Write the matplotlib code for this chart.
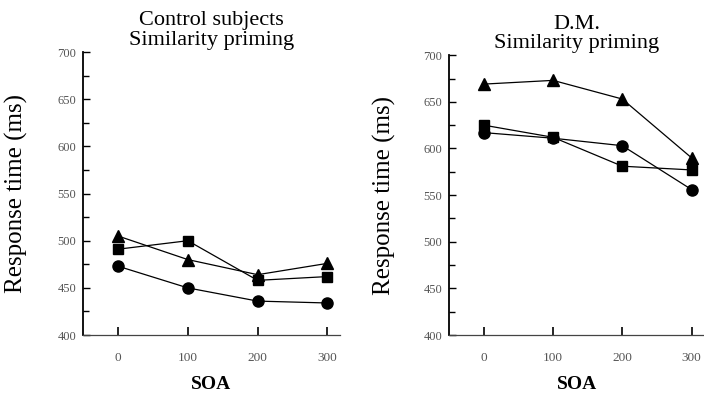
import numpy as np
import matplotlib.pyplot as plt
from matplotlib.ticker import MultipleLocator

# Dane
soa = [0, 100, 200, 300]

ctrl_circle = [473, 450, 436, 434]
ctrl_triangle = [505, 480, 464, 476]
ctrl_square = [491, 500, 458, 462]

dm_triangle = [669, 673, 653, 590]
dm_square = [625, 612, 581, 577]
dm_circle = [617, 611, 603, 556]

y_ticks = [400, 450, 500, 550, 600, 650, 700]
x_ticks = [0, 100, 200, 300]

plt.rcParams['font.family'] = ['Liberation Serif', 'DejaVu Serif']

fig = plt.figure(figsize=(7.04, 3.97), dpi=100)
ax1 = fig.add_axes([0.118, 0.156, 0.365, 0.713])
ax2 = fig.add_axes([0.638, 0.156, 0.362, 0.705])


def draw(ax, series, titles, ylabel_x):
    for vals, m, ms in series:
        ax.plot(soa, vals, color='black', lw=0.9, marker=m, markersize=ms,
                markerfacecolor='black', markeredgecolor='black')
    ax.set_xlim(-50, 318)
    ax.set_ylim(400, 700)
    ax.set_xticks(x_ticks)
    ax.set_yticks(y_ticks)
    ax.yaxis.set_minor_locator(MultipleLocator(25))
    ax.tick_params(axis='x', direction='in', length=6, width=1.2, pad=12,
                   labelsize=9.5, labelcolor='#555555')
    ax.tick_params(axis='y', which='major', direction='in', length=5, width=1,
                   pad=5, labelsize=9, labelcolor='#555555')
    ax.tick_params(axis='y', which='minor', direction='in', length=4, width=1)
    for s in ['top', 'right']:
        ax.spines[s].set_visible(False)
    ax.spines['left'].set_linewidth(1.3)
    ax.spines['bottom'].set_linewidth(0.9)
    ax.spines['bottom'].set_color('#444444')
    ax.set_title(titles, fontsize=16, linespacing=1.05, pad=5)
    ax.set_xlabel('SOA', fontsize=14, fontweight='bold', labelpad=9)
    ax.set_ylabel('Response time (ms)', fontsize=18)
    ax.yaxis.set_label_coords(ylabel_x, 0.5)


draw(ax1, [(ctrl_circle, 'o', 8), (ctrl_triangle, '^', 8), (ctrl_square, 's', 7.5)],
     'Control subjects\nSimilarity priming', -0.215)
draw(ax2, [(dm_triangle, '^', 8), (dm_square, 's', 7.5), (dm_circle, 'o', 8)],
     'D.M.\nSimilarity priming', -0.21)

fig.savefig('out.png', dpi=100)
